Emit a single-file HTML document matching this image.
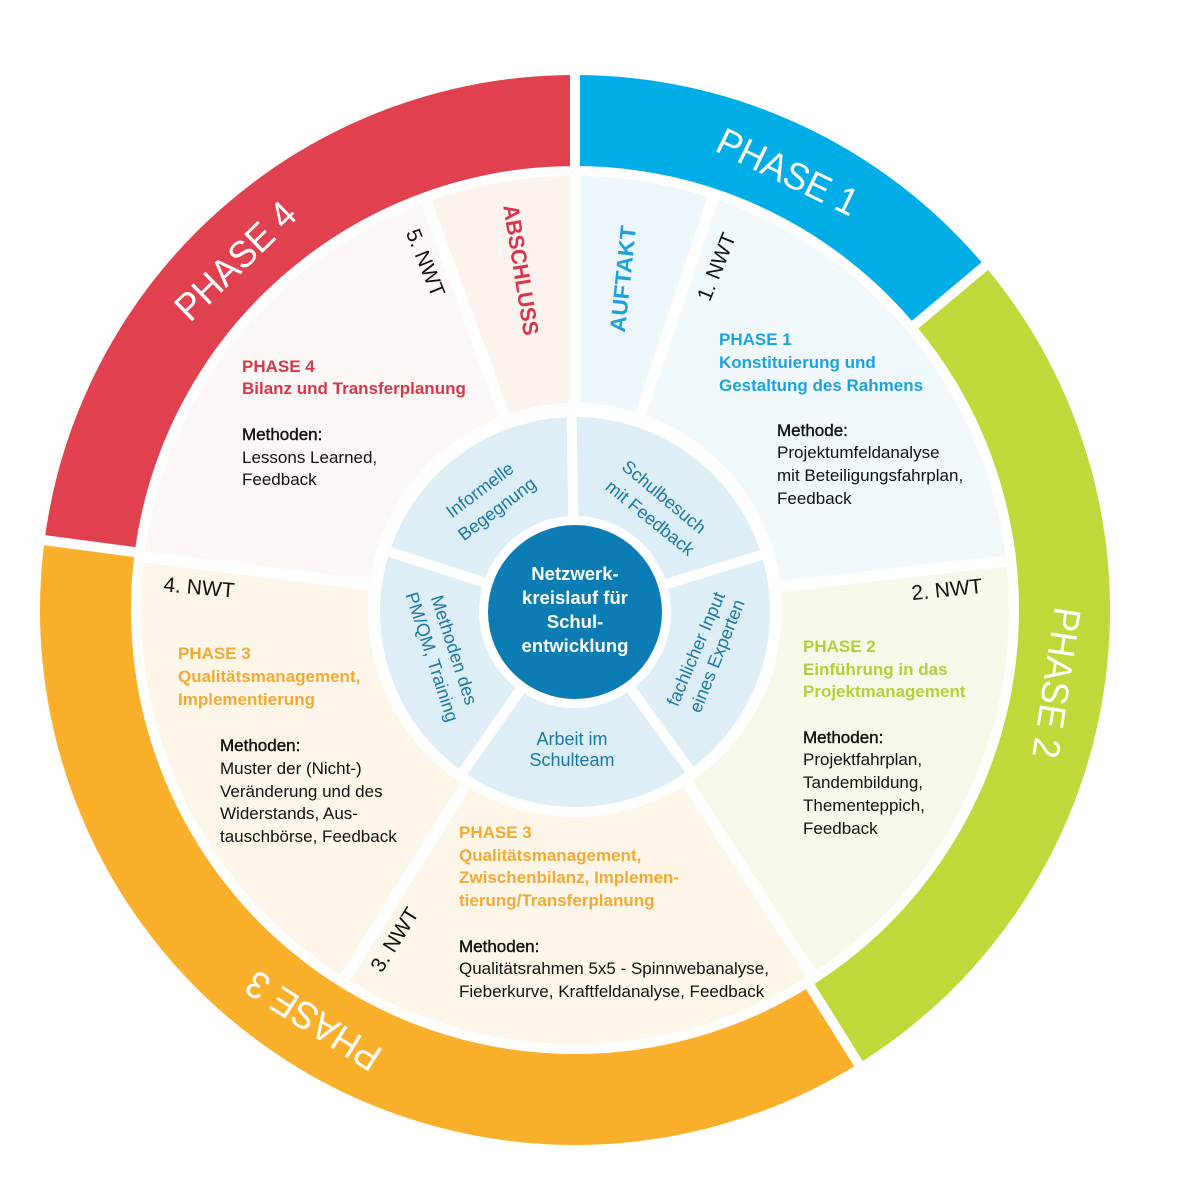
<!DOCTYPE html>
<html><head><meta charset="utf-8">
<style>
html,body{margin:0;padding:0;background:#fff;width:1200px;height:1200px;overflow:hidden;}
svg{display:block;}
text{font-family:"Liberation Sans",Arial,sans-serif;}
</style></head><body>
<svg width="1200" height="1200" viewBox="0 0 1200 1200" xmlns="http://www.w3.org/2000/svg">
<rect width="1200" height="1200" fill="#fff"/>

<!-- outer ring -->
<g fill="none" stroke-width="91">
<path d="M 89.69 546.11 A 489.5 489.5 0 0 1 575 120.5" stroke="#e1404e"/>
<path d="M 575 120.5 A 489.5 489.5 0 0 1 949.98 295.35" stroke="#00ade6"/>
<path d="M 949.98 295.35 A 489.5 489.5 0 0 1 834.40 1025.12" stroke="#c0d83a"/>
<path d="M 834.40 1025.12 A 489.5 489.5 0 0 1 89.69 546.11" stroke="#fbb02b"/>
</g>

<!-- middle ring -->
<g fill="none" stroke-width="227">
<path d="M 465.38 308.83 A 320.5 320.5 0 0 1 575 289.5" stroke="#fcf3ef"/>
<path d="M 575 289.5 A 320.5 320.5 0 0 1 676.69 306.06" stroke="#eef7fc"/>
<path d="M 676.69 306.06 A 320.5 320.5 0 0 1 893.44 573.72" stroke="#f2f9fd"/>
<path d="M 893.44 573.72 A 320.5 320.5 0 0 1 749.56 878.79" stroke="#f7f9ea"/>
<path d="M 749.56 878.79 A 320.5 320.5 0 0 1 405.16 881.80" stroke="#fdf6e9"/>
<path d="M 405.16 881.80 A 320.5 320.5 0 0 1 256.89 570.94" stroke="#fdf6e9"/>
<path d="M 256.89 570.94 A 320.5 320.5 0 0 1 465.38 308.83" stroke="#fdf8f5"/>
</g>

<!-- inner ring -->
<circle cx="575" cy="612" r="145.5" fill="none" stroke="#deeef6" stroke-width="99"/>

<!-- gaps outer -->
<g stroke="#fff" stroke-width="10">
<line x1="575" y1="168" x2="575" y2="66" transform="rotate(0 575 610)"/>
<line x1="575" y1="168" x2="575" y2="66" transform="rotate(50 575 610)"/>
<line x1="575" y1="168" x2="575" y2="66" transform="rotate(148 575 610)"/>
<line x1="575" y1="168" x2="575" y2="66" transform="rotate(277.5 575 610)"/>
</g>
<!-- gaps middle -->
<g stroke="#fff" stroke-width="11">
<line x1="575" y1="410" x2="575" y2="172" transform="rotate(0 575 610)"/>
<line x1="575" y1="410" x2="575" y2="172" transform="rotate(18.5 575 610)"/>
<line x1="575" y1="410" x2="575" y2="172" transform="rotate(83.5 575 610)"/>
<line x1="575" y1="410" x2="575" y2="172" transform="rotate(147 575 610)"/>
<line x1="575" y1="410" x2="575" y2="172" transform="rotate(212 575 610)"/>
<line x1="575" y1="410" x2="575" y2="172" transform="rotate(277 575 610)"/>
<line x1="575" y1="410" x2="575" y2="172" transform="rotate(340 575 610)"/>
</g>
<!-- gaps inner -->
<g stroke="#fff" stroke-width="10">
<line x1="575" y1="522" x2="575" y2="412" transform="rotate(-1 575 612)"/>
<line x1="575" y1="522" x2="575" y2="412" transform="rotate(73 575 612)"/>
<line x1="575" y1="522" x2="575" y2="412" transform="rotate(144 575 612)"/>
<line x1="575" y1="522" x2="575" y2="412" transform="rotate(215 575 612)"/>
<line x1="575" y1="522" x2="575" y2="412" transform="rotate(288 575 612)"/>
</g>

<!-- center circle -->
<circle cx="575" cy="612" r="87" fill="#0b7db4"/>
<g fill="#fff" font-size="18.5" font-weight="bold" text-anchor="middle">
<text x="575" y="580">Netzwerk-</text>
<text x="575" y="604">kreislauf für</text>
<text x="575" y="628">Schul-</text>
<text x="575" y="652">entwicklung</text>
</g>

<!-- ring labels -->
<g fill="#fff" font-size="38" text-anchor="middle" dominant-baseline="central">
<text x="575" y="610" textLength="152" lengthAdjust="spacingAndGlyphs" transform="rotate(25.9 575 610) translate(0 -486)">PHASE 1</text>
<text x="575" y="610" textLength="152" lengthAdjust="spacingAndGlyphs" transform="rotate(98.6 575 610) translate(0 -486)">PHASE 2</text>
<text x="575" y="610" textLength="152" lengthAdjust="spacingAndGlyphs" transform="rotate(212.5 575 610) translate(0 -486)">PHASE 3</text>
<text x="575" y="610" textLength="152" lengthAdjust="spacingAndGlyphs" transform="rotate(315.8 575 610) translate(0 -486)">PHASE 4</text>
</g>

<!-- AUFTAKT / ABSCHLUSS -->
<g font-size="22" font-weight="bold" text-anchor="middle" dominant-baseline="central">
<text x="0" y="0" fill="#1ea2dc" textLength="107" lengthAdjust="spacingAndGlyphs" transform="translate(623 279) rotate(-84)">AUFTAKT</text>
<text x="0" y="0" fill="#d8364a" textLength="132" lengthAdjust="spacingAndGlyphs" transform="translate(521 270) rotate(81)">ABSCHLUSS</text>
</g>

<!-- NWT labels -->
<g font-size="21" fill="#111" text-anchor="middle" dominant-baseline="central">
<text x="0" y="0" transform="translate(425 263) rotate(68)">5. NWT</text>
<text x="0" y="0" transform="translate(717 267) rotate(-68)">1. NWT</text>
<text x="0" y="0" transform="translate(947 590) rotate(-6)">2. NWT</text>
<text x="0" y="0" transform="translate(199 588) rotate(5)">4. NWT</text>
<text x="0" y="0" transform="translate(395 940) rotate(-58)">3. NWT</text>
</g>

<!-- inner ring texts -->
<g font-size="18" fill="#1a78a6" text-anchor="middle" dominant-baseline="central">
<text x="0" y="0" transform="translate(480 490) rotate(-37)">Informelle</text>
<text x="0" y="0" transform="translate(497 509) rotate(-37)">Begegnung</text>
<text x="0" y="0" transform="translate(664 497) rotate(40)">Schulbesuch</text>
<text x="0" y="0" transform="translate(650 518) rotate(39)">mit Feedback</text>
<text x="0" y="0" transform="translate(696 649) rotate(-67)">fachlicher Input</text>
<text x="0" y="0" transform="translate(717 656) rotate(-68)">eines Experten</text>
<text x="0" y="0" transform="translate(454 650) rotate(72)">Methoden des</text>
<text x="0" y="0" transform="translate(432 657) rotate(72)">PM/QM, Training</text>
</g>
<g font-size="18" fill="#1a78a6" text-anchor="middle">
<text x="572" y="745">Arbeit im</text>
<text x="572" y="766">Schulteam</text>
</g>

<!-- Phase 1 block -->
<g font-size="17" font-weight="bold" fill="#1ba2dd">
<text x="719" y="345">PHASE 1</text>
<text x="719" y="368">Konstituierung und</text>
<text x="719" y="391">Gestaltung des Rahmens</text>
</g>
<g font-size="17" fill="#111">
<text x="777" y="436" stroke="#111" stroke-width="0.4">Methode:</text>
<text x="777" y="458">Projektumfeldanalyse</text>
<text x="777" y="481">mit Beteiligungsfahrplan,</text>
<text x="777" y="504">Feedback</text>
</g>

<!-- Phase 2 block -->
<g font-size="17" font-weight="bold" fill="#b5cf3c">
<text x="803" y="652">PHASE 2</text>
<text x="803" y="675">Einführung in das</text>
<text x="803" y="697">Projektmanagement</text>
</g>
<g font-size="17" fill="#111">
<text x="803" y="743" stroke="#111" stroke-width="0.4">Methoden:</text>
<text x="803" y="765">Projektfahrplan,</text>
<text x="803" y="788">Tandembildung,</text>
<text x="803" y="811">Thementeppich,</text>
<text x="803" y="834">Feedback</text>
</g>

<!-- Phase 3 bottom block -->
<g font-size="17" font-weight="bold" fill="#f3a934">
<text x="459" y="838">PHASE 3</text>
<text x="459" y="861">Qualitätsmanagement,</text>
<text x="459" y="883">Zwischenbilanz, Implemen-</text>
<text x="459" y="906">tierung/Transferplanung</text>
</g>
<g font-size="17" fill="#111">
<text x="459" y="952" stroke="#111" stroke-width="0.4">Methoden:</text>
<text x="459" y="974">Qualitätsrahmen 5x5 - Spinnwebanalyse,</text>
<text x="459" y="997">Fieberkurve, Kraftfeldanalyse, Feedback</text>
</g>

<!-- Phase 3 left block -->
<g font-size="17" font-weight="bold" fill="#f3a934">
<text x="178" y="659">PHASE 3</text>
<text x="178" y="682">Qualitätsmanagement,</text>
<text x="178" y="705">Implementierung</text>
</g>
<g font-size="17" fill="#111">
<text x="220" y="751" stroke="#111" stroke-width="0.4">Methoden:</text>
<text x="220" y="774">Muster der (Nicht-)</text>
<text x="220" y="797">Veränderung und des</text>
<text x="220" y="819">Widerstands, Aus-</text>
<text x="220" y="842">tauschbörse, Feedback</text>
</g>

<!-- Phase 4 block -->
<g font-size="17" font-weight="bold" fill="#d8364a">
<text x="242" y="372">PHASE 4</text>
<text x="242" y="394">Bilanz und Transferplanung</text>
</g>
<g font-size="17" fill="#111">
<text x="242" y="440" stroke="#111" stroke-width="0.4">Methoden:</text>
<text x="242" y="463">Lessons Learned,</text>
<text x="242" y="485">Feedback</text>
</g>

</svg>
</body></html>
